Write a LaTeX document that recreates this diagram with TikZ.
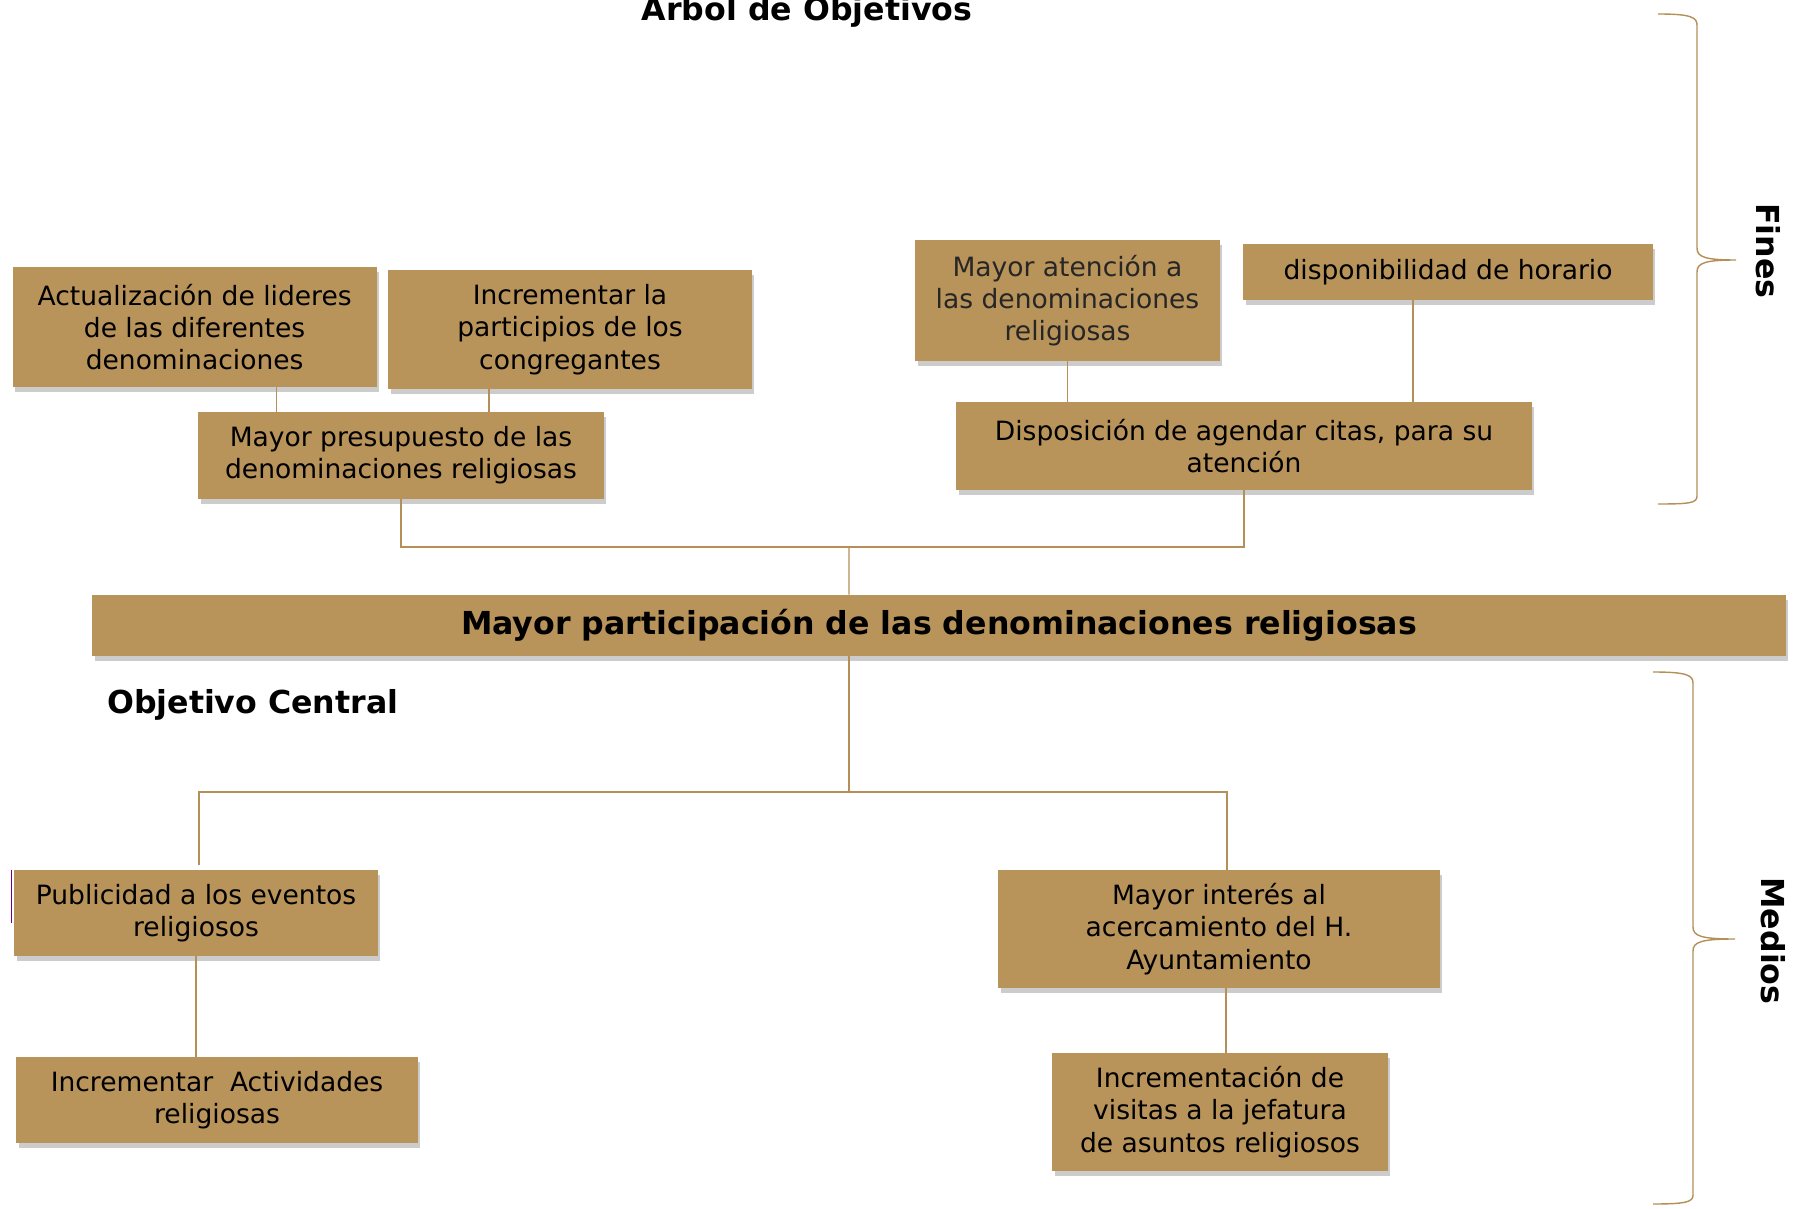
\documentclass[tikz,border=0pt]{standalone}
\usepackage{fontspec}
\setmainfont{DejaVu Sans}
\usetikzlibrary{
  positioning,
  calc,
  shadows,
}
\definecolor{boxtan}{HTML}{B8935A}
\definecolor{linetan}{HTML}{B58F58}
\definecolor{textgray}{HTML}{262626}

\begin{document}
\begin{tikzpicture}[
    x=0.02cm, y=-0.02cm,
    goal/.style={rectangle, fill=boxtan, inner sep=0pt, align=center,
                 font=\fontsize{15.1pt}{18.4pt}\selectfont,
                 drop shadow={shadow xshift=0.05cm, shadow yshift=-0.1cm,
                              opacity=0.4}},
    link/.style={draw=linetan, line width=0.8pt},
    heading/.style={font=\fontsize{18pt}{21pt}\selectfont\bfseries},
  ]
  \useasboundingbox (0,0) rectangle (1795,1209);

  \node[heading, anchor=base] (titulo) at (807,21) {Arbol de Objetivos};

  % fines
  \node[goal, minimum width=7.28cm, minimum height=2.4cm] (lideres) at (194.6,327)
    {Actualización de lideres\\de las diferentes\\denominaciones};
  \node[goal, minimum width=7.28cm, minimum height=2.38cm] (participios) at (570,329.5)
    {Incrementar la\\participios de los\\congregantes};
  \node[goal, minimum width=8.12cm, minimum height=1.74cm] (presupuesto) at (401,455.5)
    {Mayor presupuesto de las\\denominaciones religiosas};
  \node[goal, text=textgray, minimum width=6.1cm, minimum height=2.42cm] (atencion) at (1067.5,300.5)
    {Mayor atención a\\las denominaciones\\religiosas};
  \node[goal, minimum width=8.2cm, minimum height=1.12cm] (horario) at (1448,272)
    {disponibilidad de horario};
  \node[goal, minimum width=11.52cm, minimum height=1.76cm] (citas) at (1244,446)
    {Disposición de agendar citas, para su\\atención};

  % objetivo central
  \node[goal, minimum width=33.88cm, minimum height=1.22cm,
        font=\fontsize{18pt}{21pt}\selectfont\bfseries] (central) at (939,625.5)
    {\raisebox{-2pt}{Mayor participación de las denominaciones religiosas}};
  \node[heading, anchor=base west] (objetivo) at (101,713) {Objetivo Central};

  % medios
  \node[goal, minimum width=7.28cm, minimum height=1.72cm] (publicidad) at (196,913)
    {Publicidad a los eventos\\religiosos};
  \node[goal, minimum width=8.04cm, minimum height=1.72cm] (actividades) at (217,1100)
    {Incrementar\ \ Actividades\\religiosas};
  \node[goal, minimum width=8.84cm, minimum height=2.36cm] (interes) at (1219,929)
    {Mayor interés al\\acercamiento del H.\\Ayuntamiento};
  \node[goal, minimum width=6.72cm, minimum height=2.36cm] (visitas) at (1220,1112)
    {Incrementación de\\visitas a la jefatura\\de asuntos religiosos};

  \draw[purple!60!blue, line width=0.8pt] ([xshift=-0.04cm]publicidad.north west) -- ++(0,53);

  % conectores
  \draw[link] ([xshift=1.64cm]lideres.south) -- ([xshift=1.64cm]lideres.south |- presupuesto.north);
  \draw[link] ([xshift=-1.62cm]participios.south) -- ([xshift=-1.62cm]participios.south |- presupuesto.north);
  \draw[link] (atencion.south) -- (atencion.south |- citas.north);
  \draw[link] ([xshift=-0.7cm]horario.south) -- ([xshift=-0.7cm]horario.south |- citas.north);

  \coordinate (upbus) at (849,547);
  \draw[link] (presupuesto.south) |- (upbus) -| (citas.south);
  \draw[link] ([xshift=-1.8cm]central.north) -- (upbus);

  \coordinate (lowbus) at (849,792);
  \coordinate (leftend) at (199,865);
  \draw[link] (central.south -| lowbus) -- (lowbus);
  \draw[link] (leftend) |- (lowbus) -| ([xshift=0.16cm]interes.north);
  \draw[link] (publicidad.south) -- (publicidad.south |- actividades.north);
  \draw[link] ([xshift=0.14cm]interes.south) -- ([xshift=0.14cm]interes.south |- visitas.north);

  % llaves
  \draw[link] (1658,14) .. controls (1690,14) and (1697,17) .. (1697,25)
    -- (1697,248) .. controls (1697,257) and (1705,260) .. (1736,260)
    .. controls (1705,260) and (1697,263) .. (1697,272)
    -- (1697,496) .. controls (1697,503) and (1690,504) .. (1658,504);
  \node[heading, rotate=-90] (fines) at (1768,251) {Fines};

  \draw[link] (1653,672) .. controls (1686,672) and (1693,675) .. (1693,683)
    -- (1693,927) .. controls (1693,936) and (1701,939) .. (1735,939)
    .. controls (1701,939) and (1693,942) .. (1693,951)
    -- (1693,1195) .. controls (1693,1202) and (1686,1204) .. (1653,1204);
  \node[heading, rotate=-90] (medios) at (1773,941) {Medios};
\end{tikzpicture}
\end{document}
